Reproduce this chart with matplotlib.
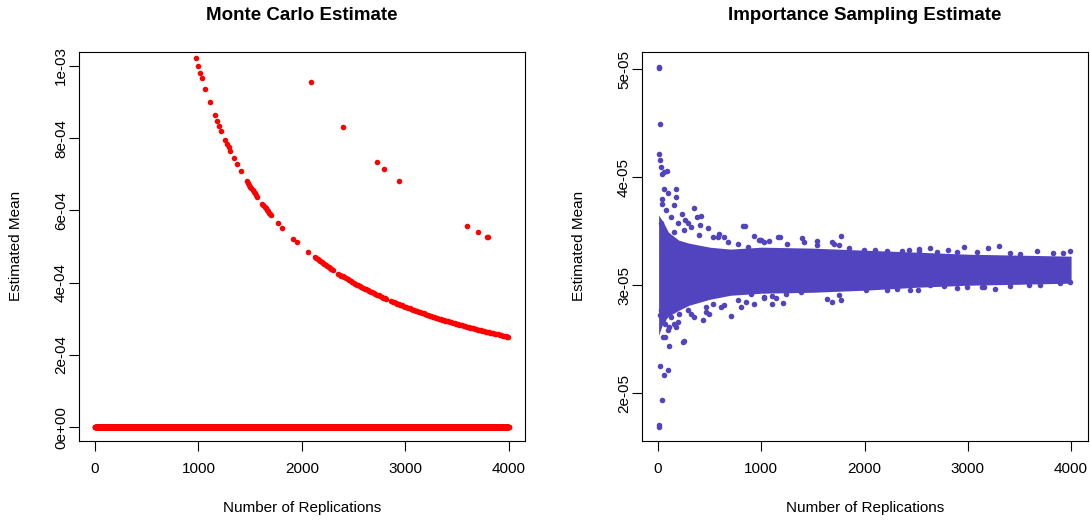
import numpy as np
import matplotlib
matplotlib.use('Agg')
import matplotlib.pyplot as plt

plt.rcParams['font.family'] = ['Liberation Sans', 'DejaVu Sans']

c_strMcColor = '#FF0000'
c_strIsColor = '#5243BE'

# replications 1..4000, one estimate per replication count
nReplications = 4000

# Monte Carlo: replication counts that saw one hit (estimate 1/n) or two hits (2/n)
lstSingleHitN = [979, 1000, 1020, 1033, 1068, 1111, 1157, 1179, 1201, 1220, 1258, 1275, 1291, 1309,
                 1340, 1370, 1410,
                 1468, 1479, 1490, 1501, 1512, 1523, 1534, 1545, 1556, 1567,
                 1618, 1629, 1640, 1651, 1662, 1673, 1684, 1695, 1705,
                 1771, 1812, 1917, 1950, 2063,
                 2128, 2141, 2154, 2167, 2180, 2193, 2206, 2219, 2232, 2245, 2258, 2271, 2284, 2297,
                 2352, 2367, 2382, 2397, 2412, 2427, 2442, 2457, 2472, 2487, 2502, 2517, 2532, 2547,
                 2562, 2577, 2592, 2607, 2622, 2637, 2652, 2667, 2682, 2697, 2712, 2727, 2742, 2757,
                 2772, 2787, 2802, 2817,
                 2862, 2877, 2892, 2907, 2922, 2937, 2952, 2967, 2982, 2997, 3012, 3027, 3042, 3057,
                 3072, 3087, 3102, 3117, 3132, 3147, 3162, 3177, 3192, 3207, 3222, 3237, 3252, 3267,
                 3282, 3297, 3312, 3327, 3342, 3357, 3372, 3387, 3402, 3417, 3432, 3447, 3462, 3477,
                 3492, 3507, 3522, 3537, 3552, 3567, 3582, 3597, 3612, 3627, 3642, 3657, 3672, 3687,
                 3702, 3717, 3732, 3747, 3762, 3777, 3795, 3807, 3822, 3837, 3852, 3867, 3882, 3897,
                 3912, 3927, 3942, 3957, 3972, 3987, 3997]
lstDoubleHitN = [2093, 2403, 2725, 2798, 2938, 3600, 3703, 3790, 3800]

# Importance sampling: dense core of the cloud (lower / upper edge) ...
lstIsCoreN    = [5, 50, 100, 200, 300, 500, 700, 1000, 1500, 2000, 2500, 3000, 3500, 4000]
lstIsCoreLow  = [2.537e-5, 2.657e-5, 2.713e-5, 2.768e-5, 2.815e-5, 2.870e-5, 2.907e-5,
                 2.926e-5, 2.935e-5, 2.954e-5, 2.981e-5, 3.000e-5, 3.009e-5, 3.019e-5]
lstIsCoreHigh = [3.649e-5, 3.584e-5, 3.491e-5, 3.417e-5, 3.389e-5, 3.352e-5, 3.334e-5,
                 3.352e-5, 3.343e-5, 3.324e-5, 3.306e-5, 3.287e-5, 3.278e-5, 3.269e-5]
# ... and the loose points round it
lstIsOutN   = [13, 13, 19, 13, 19, 29, 36, 61, 87, 61, 100, 177, 177, 42, 151, 42, 351,
               229, 377, 415, 261, 287, 409, 480, 824, 843, 930,
               29, 16, 68, 109, 157, 174, 94, 68, 45, 103, 238, 254, 351, 432, 496, 705,
               22, 94, 55, 39, 13, 13,
               1027, 850, 770, 609, 528, 464, 528, 592, 641, 770, 867, 979,
               995, 1076, 1157, 1182, 1398, 1543, 1688, 1768,
               1021, 1108, 1140, 1108, 1205, 1640, 1688, 1768,
               2638, 2805, 2966, 3191, 3298, 3668, 3990,
               2515, 2896, 3159, 3266, 3588,
               77, 126, 190, 254, 319, 399, 29, 157, 577, 673,
               61, 126, 206, 287, 45, 190, 319, 464, 641, 802, 930,
               989, 1027, 1253, 1414, 1543, 1704, 1752, 1849, 1993, 2097, 2219, 2364, 2428, 2525,
               899, 1237, 1382, 1752, 1865, 2010, 2219, 2316, 2444,
               2525, 2702, 2896, 3089, 3411, 3507, 3829, 3926,
               2638, 2766, 2992, 3137, 3411, 3700, 3894, 3990]
lstIsOutVal = [5.023e-5, 5.008e-5, 4.49e-5, 4.214e-5, 4.158e-5, 4.096e-5, 4.029e-5, 4.047e-5,
               4.054e-5, 3.893e-5, 3.855e-5, 3.887e-5, 3.813e-5, 3.80e-5, 3.739e-5, 3.75e-5,
               3.711e-5, 3.655e-5, 3.633e-5, 3.642e-5, 3.602e-5, 3.572e-5, 3.559e-5, 3.531e-5,
               3.55e-5, 3.55e-5, 3.457e-5,
               2.768e-5, 2.722e-5, 2.645e-5, 2.614e-5, 2.645e-5, 2.614e-5, 2.589e-5, 2.521e-5,
               2.521e-5, 2.435e-5, 2.472e-5, 2.484e-5, 2.706e-5, 2.682e-5, 2.738e-5, 2.713e-5,
               2.249e-5, 2.219e-5, 2.166e-5, 1.94e-5, 1.703e-5, 1.687e-5,
               2.892e-5, 2.845e-5, 2.867e-5, 2.80e-5, 2.83e-5, 2.80e-5, 3.448e-5, 3.47e-5,
               3.448e-5, 3.386e-5, 3.355e-5, 3.417e-5,
               3.417e-5, 3.41e-5, 3.442e-5, 3.448e-5, 3.433e-5, 3.41e-5, 3.401e-5, 3.457e-5,
               2.886e-5, 2.901e-5, 2.886e-5, 2.83e-5, 2.836e-5, 2.877e-5, 2.842e-5, 2.861e-5,
               3.34e-5, 3.324e-5, 3.355e-5, 3.34e-5, 3.361e-5, 3.315e-5, 3.315e-5,
               2.954e-5, 2.975e-5, 2.979e-5, 2.969e-5, 3.006e-5,
               3.695e-5, 3.633e-5, 3.572e-5, 3.51e-5, 3.54e-5, 3.463e-5, 3.572e-5, 3.494e-5,
               3.448e-5, 3.401e-5,
               2.738e-5, 2.706e-5, 2.738e-5, 2.768e-5, 2.676e-5, 2.66e-5, 2.738e-5, 2.753e-5,
               2.815e-5, 2.80e-5, 2.83e-5,
               3.417e-5, 3.401e-5, 3.386e-5, 3.401e-5, 3.371e-5, 3.38e-5, 3.371e-5, 3.34e-5,
               3.324e-5, 3.324e-5, 3.315e-5, 3.315e-5, 3.324e-5, 3.318e-5,
               2.923e-5, 2.923e-5, 2.938e-5, 2.907e-5, 2.984e-5, 2.954e-5, 2.954e-5, 2.969e-5,
               2.954e-5,
               3.331e-5, 3.309e-5, 3.309e-5, 3.309e-5, 3.294e-5, 3.287e-5, 3.299e-5, 3.294e-5,
               3.0e-5, 2.991e-5, 2.984e-5, 2.984e-5, 2.991e-5, 3.0e-5, 3.016e-5, 3.031e-5]

lstXTicks = [0, 1000, 2000, 3000, 4000]
lstMcYTicks = [0, 2e-4, 4e-4, 6e-4, 8e-4, 1e-3]
lstIsYTicks = [2e-5, 3e-5, 4e-5, 5e-5]


def style_axes(ax, lstYTicks):
   for spine in ax.spines.values():
      spine.set_linewidth(0.8)
   ax.set_xticks(lstXTicks, labels=[str(x) for x in lstXTicks])
   ax.set_yticks(lstYTicks, labels=['%.0e' % y for y in lstYTicks], rotation=90, va='center')
   ax.tick_params(direction='out', length=7.2, width=0.8, labelsize=11, top=False, right=False)
   ax.tick_params(axis='x', pad=8)
   ax.tick_params(axis='y', pad=0.5)
   ax.set_xlim(-158.96, 4159.96)


fig = plt.figure(figsize=(10.9, 5.21), dpi=100)

# Monte Carlo
axMc = fig.add_axes([0.0721, 0.1545, 0.4097, 0.7466])
arrN = np.arange(1, nReplications + 1)
arrHits = np.zeros(nReplications)
arrHits[np.array(lstSingleHitN) - 1] = 1
arrHits[np.array(lstDoubleHitN) - 1] = 2
axMc.plot(arrN, arrHits / arrN, 'o', markersize=4, markeredgewidth=0, color=c_strMcColor)
style_axes(axMc, lstMcYTicks)
axMc.set_ylim(-3.7e-5, 1.040e-3)

# Importance sampling
axIs = fig.add_axes([0.5887, 0.1545, 0.4091, 0.7466])
axIs.fill_between(lstIsCoreN, lstIsCoreLow, lstIsCoreHigh, color=c_strIsColor, linewidth=0)
axIs.plot(lstIsOutN, lstIsOutVal, 'o', markersize=4, markeredgewidth=0, color=c_strIsColor)
style_axes(axIs, lstIsYTicks)
axIs.set_ylim(1.5635e-5, 5.162e-5)

for (ax, strTitle, xLabel) in [(axMc, 'Monte Carlo Estimate', 16), (axIs, 'Importance Sampling Estimate', 579)]:
   bb = ax.get_position()
   xc = (bb.x0 + bb.x1) / 2
   yc = (bb.y0 + bb.y1) / 2
   fig.text(xc, 506 / 521, strTitle, ha='center', va='center', fontsize=13.5, fontweight='bold')
   fig.text(xc, 13 / 521, 'Number of Replications', ha='center', va='center', fontsize=11)
   fig.text(xLabel / 1090, yc, 'Estimated Mean', ha='center', va='center', rotation=90, fontsize=11)

fig.savefig('out.png', dpi=100)
